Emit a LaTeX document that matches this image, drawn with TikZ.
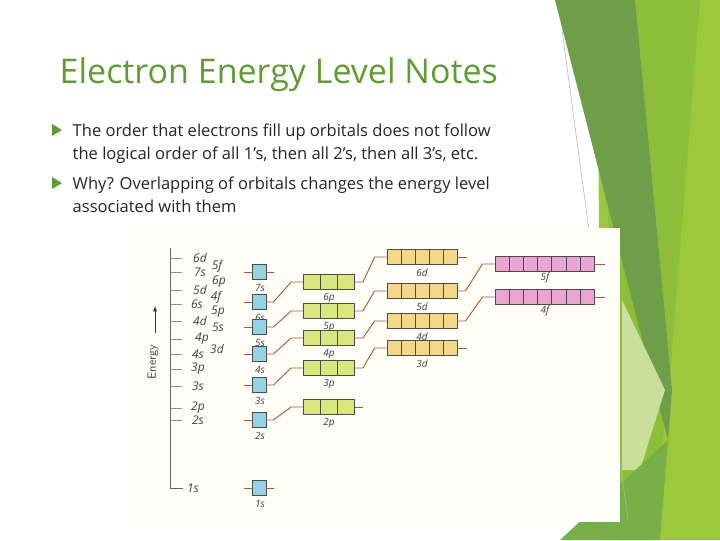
\documentclass[tikz,border=0pt]{standalone}
\usepackage{fontspec}
\setmainfont{Open Sans}
\definecolor{ttl}{HTML}{5E9E30}
\definecolor{gA}{HTML}{6E9E4A}
\definecolor{gB}{HTML}{8DBE3A}
\definecolor{gC}{HTML}{9CC83C}
\definecolor{gD}{HTML}{C9E09A}
\definecolor{gE}{HTML}{78B048}
\definecolor{conn}{HTML}{B5553F}
\definecolor{sC}{HTML}{92D5E2}
\definecolor{pC}{HTML}{D9E87E}
\definecolor{dC}{HTML}{F4D88A}
\definecolor{fC}{HTML}{EBA5D5}
\begin{document}
\begin{tikzpicture}[x=0.75pt,y=-0.75pt,
  cell/.style={draw=black!70,line width=0.6pt,minimum height=15*0.75pt,inner sep=0pt},
  lab/.style={font=\fontsize{7.5}{7.5}\selectfont\itshape,text=black!75,inner sep=0pt},
  cn/.style={conn,line width=0.7pt},
  bul/.style={fill=ttl}]
\useasboundingbox (0,0) rectangle (720,540);
\fill[white] (0,0) rectangle (720,540);
% background shapes
\fill[gC] (598,0) -- (720,0) -- (720,540) -- (600,540) -- cycle;
\fill[gB] (600,0) -- (700,0) -- (668,400) -- (650,540) -- (620,540)-- cycle;
\fill[gA] (555,0) -- (635,0) -- (672,390) -- (668,440) -- cycle;
\fill[gD] (622,300) -- (665,390) -- (640,470) -- (622,470) -- cycle;
\fill[gE] (560,540) -- (668,440) -- (660,540) -- cycle;
\draw[gray!60,line width=0.4pt] (562,30) -- (628,520);
% title
\node[anchor=west,text=ttl,font=\fontsize{25.5}{26}\selectfont] (title) at (55,75) {Electron Energy Level Notes};
% bullets
\fill[bul] (52,124) -- (62,130) -- (52,136) -- cycle;
\fill[bul] (52,177) -- (62,183) -- (52,189) -- cycle;
\node[anchor=north west,align=left,font=\fontsize{12.4}{17}\selectfont,text=black!85] (b1) at (68,119) {The order that electrons fill up orbitals does not follow\\the logical order of all 1’s, then all 2’s, then all 3’s, etc.};
\node[anchor=north west,align=left,font=\fontsize{12.4}{17}\selectfont,text=black!85] (b2) at (68,172) {Why? Overlapping of orbitals changes the energy level\\associated with them};
% diagram panel
\fill[yellow!3!white] (130,228) rectangle (620,522);
% axis
\draw[black!60,line width=0.6pt] (170,248) -- (170,488) -- (183,488);
\foreach \y/\t in {258/6d,272/7s,290/5d,304/6s,321/4d,339/4p,354/4s,369/3p,386/3s,408/2p,420/2s}{\draw[black!45,line width=0.5pt] (170,\y) -- (182,\y);}
\foreach \y/\t/\xx in {258/6d/200,272/7s/200,290/5d/200,304/6s/197,321/4d/200,339/4p/202,354/4s/198,369/3p/198,386/3s/198,408/2p/198,420/2s/198,488/1s/193,266/5f/217,282/6p/219,297/4f/216,312/5p/218,327/5s/218,349/3d/217}{\node[lab,font=\fontsize{9}{9}\selectfont\itshape] (l\t) at (\xx,\y) {\t};}
\node[rotate=90,font=\fontsize{9}{9}\selectfont\sffamily,text=black!70] (en) at (153,362) {Energy};
\coordinate (ea) at (155,333); \coordinate (eb) at (155,306);
\draw[-latex,black!80] (ea) -- (eb);
% s boxes
\foreach \n/\y in {7/272,6/302,5/327,4/354,3/385,2/420,1/488}{
 \node[cell,fill=sC,minimum width=14*0.75pt] (s\n) at (259,\y) {};
 \node[lab] at (260,\y+16) {\n s};}
% p boxes
\foreach \n/\y in {6/282,5/311,4/338,3/368,2/407}{
 \foreach \k in {0,1,2}{\node[cell,fill=pC,minimum width=17*0.75pt] (p\n c\k) at (312+17*\k,\y) {};}
 \node[lab] at (329,\y+16) {\n p};}
% d boxes
\foreach \n/\y in {6/257,5/291,4/321,3/348}{
 \foreach \k in {0,...,4}{\node[cell,fill=dC,minimum width=14*0.75pt] (d\n c\k) at (394+14*\k,\y) {};}
 \node[lab] at (422,\y+16) {\n d};}
% f boxes
\foreach \n/\y in {5/264,4/297}{
 \foreach \k in {0,...,6}{\node[cell,fill=fC,minimum width=14.2*0.75pt] (f\n c\k) at (502+14.2*\k,\y) {};}
 \node[lab] at (545,\y+14) {\n f};}
% connectors s->p
\foreach \n in {2,...,6}{\draw[cn] (s\n.west) -- ++(-8,0);
 \draw[cn] (s\n.east) -- ++(7,0) -- ([xshift=-12*0.75pt]p\n c0.west) -- (p\n c0.west);}
\foreach \n in {7,1}{\draw[cn] (s\n.west) -- ++(-8,0); \draw[cn] (s\n.east) -- ++(8,0);}
% p->d
\foreach \n in {3,...,6}{\draw[cn] (p\n c2.east) -- ++(8,0) -- ([xshift=-12*0.75pt]d\n c0.west) -- (d\n c0.west);}
\draw[cn] (p2c2.east) -- ++(8,0);
% d->f
\foreach \n in {4,5}{\draw[cn] (d\n c4.east) -- ++(8,0) -- ([xshift=-12*0.75pt]f\n c0.west) -- (f\n c0.west);}
\draw[cn] (d6c4.east) -- ++(10,0);
\draw[cn] (d3c4.east) -- ++(10,0);
\foreach \n in {4,5}{\draw[cn] (f\n c6.east) -- ++(10,0);}
\end{tikzpicture}
\end{document}
